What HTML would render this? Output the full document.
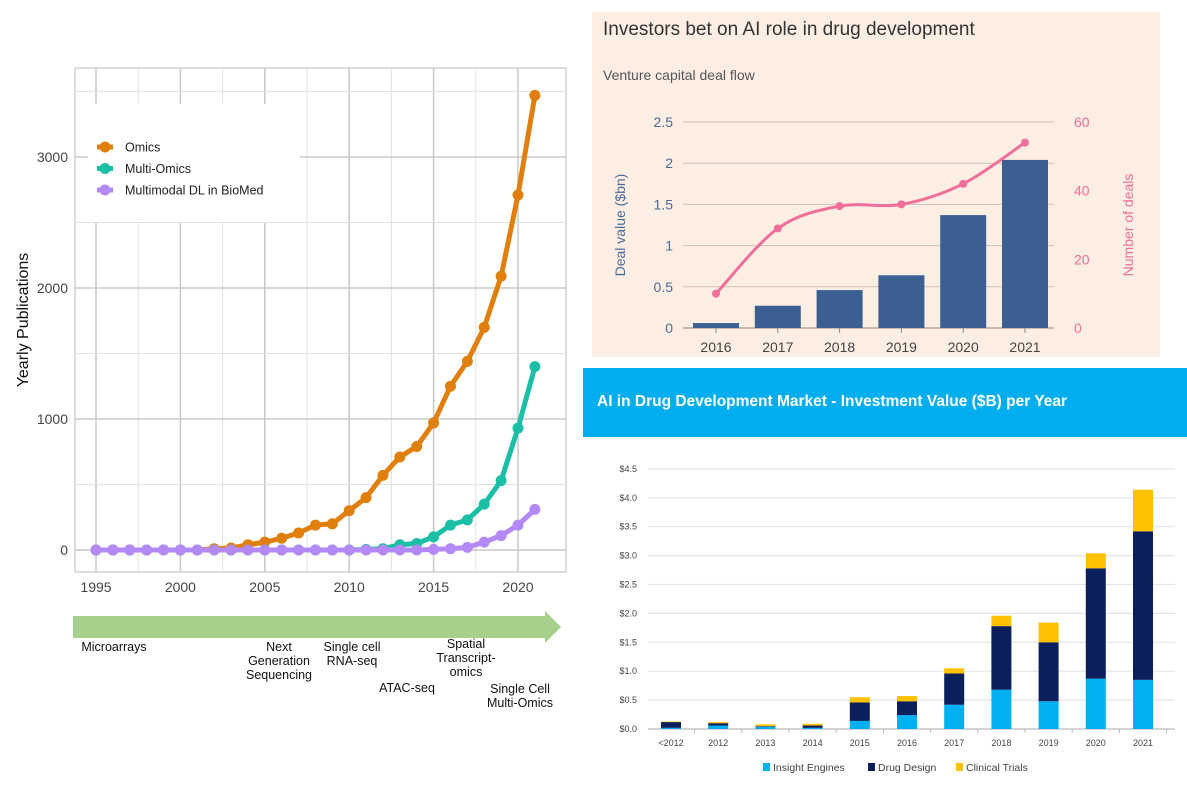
<!DOCTYPE html>
<html><head><meta charset="utf-8"><style>
body{margin:0;background:#fff;width:1187px;height:785px;overflow:hidden;font-family:"Liberation Sans",sans-serif}
</style></head><body>
<svg id="s" width="1187" height="785" xmlns="http://www.w3.org/2000/svg">
<g id="left"></g>
<g id="tr"></g>
<g id="br"></g>
</svg>
<script>
const years=[1995,1996,1997,1998,1999,2000,2001,2002,2003,2004,2005,2006,2007,2008,2009,2010,2011,2012,2013,2014,2015,2016,2017,2018,2019,2020,2021];
const omics=[0,0,0,0,0,0,0,10,15,40,60,90,130,190,200,300,400,570,710,790,970,1250,1440,1700,2090,2710,3470];
const multiOmics=[0,0,0,0,0,0,0,0,0,0,0,0,0,0,0,0,5,10,40,50,100,190,230,350,530,930,1400];
const multimodal=[0,0,0,0,0,0,0,0,0,0,0,0,0,0,0,0,0,0,0,0,5,10,20,60,110,190,310];
const leftXTicks=[1995,2000,2005,2010,2015,2020];
const leftYTicks=[0,1000,2000,3000];

const vcYears=["2016","2017","2018","2019","2020","2021"];
const vcValue=[0.06,0.27,0.46,0.64,1.37,2.04];
const vcDeals=[10,29,35.5,36,42,54];
const vcLeftTicks=[0,0.5,1,1.5,2,2.5];
const vcRightTicks=[0,20,40,60];

const invCats=["<2012","2012","2013","2014","2015","2016","2017","2018","2019","2020","2021"];
const insight=[0.02,0.06,0.04,0.02,0.14,0.24,0.42,0.68,0.48,0.87,0.85];
const drugDesign=[0.10,0.04,0.01,0.04,0.32,0.24,0.54,1.10,1.02,1.91,2.57];
const clinical=[0.01,0.02,0.03,0.03,0.09,0.09,0.09,0.18,0.34,0.26,0.72];
const invTicks=[0,0.5,1,1.5,2,2.5,3,3.5,4,4.5];

const NS="http://www.w3.org/2000/svg";
function mk(p,t,a,txt){const e=document.createElementNS(NS,t);for(const k in a)e.setAttribute(k,a[k]);if(txt!=null)e.textContent=txt;p.appendChild(e);return e;}

// LEFT
const L=document.getElementById('left');
const lx=y=>96+(y-1995)*16.88, ly=v=>550-v*0.131;
mk(L,'rect',{x:75,y:68,width:491,height:504,fill:'#fff',stroke:'#bbb'});
for(let y=1995;y<=2022;y+=2.5){const e=mk(L,'line',{x1:lx(y),x2:lx(y),y1:68,y2:572,stroke:y%5==0?'#c8c8c8':'#e2e2e2','stroke-width':y%5==0?1.5:1});}
for(let v=-500;v<=3500;v+=500){if(ly(v)<68||ly(v)>572)continue;mk(L,'line',{x1:75,x2:566,y1:ly(v),y2:ly(v),stroke:v%1000==0?'#c8c8c8':'#e2e2e2','stroke-width':v%1000==0?1.5:1});}
leftYTicks.forEach(v=>{const t=mk(L,'text',{x:68,y:ly(v)+5,'text-anchor':'end','font-size':14,fill:'#444'},v);});
leftXTicks.forEach(v=>{const t=mk(L,'text',{x:lx(v),y:592,'text-anchor':'middle','font-size':14,fill:'#444'},v);});
const yt=mk(L,'text',{x:28,y:320,'text-anchor':'middle','font-size':16,fill:'#111',transform:'rotate(-90 28 320)'},'Yearly Publications');

[[omics,'#e07f0b','omics'],[multiOmics,'#1bbfa5','multi-omics'],[multimodal,'#b389f7','multimodal']].forEach(([d,c,n])=>{
 const p=mk(L,'polyline',{points:d.map((v,i)=>lx(years[i])+','+ly(v)).join(' '),fill:'none',stroke:c,'stroke-width':5});
 
 d.forEach((v,i)=>{const q=mk(L,'circle',{cx:lx(years[i]),cy:ly(v),r:5.5,fill:c});});
});
const lg=mk(L,'g',{});
mk(lg,'rect',{x:88,y:104,width:212,height:118,fill:'#fff'});
[['Omics','#e07f0b'],['Multi-Omics','#1bbfa5'],['Multimodal DL in BioMed','#b389f7']].forEach(([t,c],i)=>{const y=147+i*21.5;
 const g=mk(lg,'g',{});
 mk(g,'line',{x1:97,x2:113,y1:y,y2:y,stroke:c,'stroke-width':5});mk(g,'circle',{cx:105,cy:y,r:5.5,fill:c});
 mk(g,'text',{x:125,y:y+4.5,'font-size':12.5,fill:'#222'},t);});
const ar=mk(L,'polygon',{points:'73,616 545,616 545,611 561,627 545,643 545,638 73,638',fill:'#a7d08c'});

[[['Microarrays'],114,651],[['Next','Generation','Sequencing'],279,651],[['Single cell','RNA-seq'],352,651],[['ATAC-seq'],407,692],[['Spatial','Transcript-','omics'],466,648],[['Single Cell','Multi-Omics'],520,693]].forEach(([ls,x,y])=>{
 ls.forEach((s,i)=>{const t=mk(L,'text',{x:x,y:y+i*14,'text-anchor':'middle','font-size':12.5,fill:'#111'},s);});});

// TOP RIGHT
const T=document.getElementById('tr');
mk(T,'rect',{x:592,y:12,width:568,height:345,fill:'#fdeee3'});
let t=mk(T,'text',{x:603,y:35,'font-size':19,fill:'#333'},'Investors bet on AI role in drug development');
t=mk(T,'text',{x:603,y:80,'font-size':14,fill:'#555'},'Venture capital deal flow');
const tx=i=>716+i*61.8, tyL=v=>328-v*82.4, tyR=v=>328-v*3.433;
vcLeftTicks.forEach(v=>{mk(T,'line',{x1:683,x2:1054,y1:tyL(v),y2:tyL(v),stroke:v==0?'#888':'#ccc2b8'});
 const e=mk(T,'text',{x:673,y:tyL(v)+5,'text-anchor':'end','font-size':14,fill:'#4a6a9a'},v);});
vcRightTicks.forEach(v=>{const e=mk(T,'text',{x:1074,y:tyR(v)+5,'font-size':14,fill:'#f06e9a'},v);});
vcYears.forEach((y,i)=>{mk(T,'line',{x1:tx(i),x2:tx(i),y1:328,y2:333,stroke:'#888'});
 const e=mk(T,'text',{x:tx(i),y:352,'text-anchor':'middle','font-size':14,fill:'#444'},y);
 const b=mk(T,'rect',{x:tx(i)-23,y:tyL(vcValue[i]),width:46,height:328-tyL(vcValue[i]),fill:'#3c5f91'});});
t=mk(T,'text',{x:625,y:225,'text-anchor':'middle','font-size':14,fill:'#4a6a9a',transform:'rotate(-90 625 225)'},'Deal value ($bn)');
t=mk(T,'text',{x:1133,y:225,'text-anchor':'middle','font-size':14,fill:'#f06e9a',transform:'rotate(-90 1133 225)'},'Number of deals');
const pts=vcDeals.map((v,i)=>[tx(i),tyR(v)]);
let d='M'+pts[0];for(let i=0;i<pts.length-1;i++){const p0=pts[Math.max(0,i-1)],p1=pts[i],p2=pts[i+1],p3=pts[Math.min(pts.length-1,i+2)];
 d+=` C${p1[0]+(p2[0]-p0[0])/6},${p1[1]+(p2[1]-p0[1])/6} ${p2[0]-(p3[0]-p1[0])/6},${p2[1]-(p3[1]-p1[1])/6} ${p2[0]},${p2[1]}`;}
t=mk(T,'path',{d:d,fill:'none',stroke:'#f06e9a','stroke-width':3});
pts.forEach(p=>{const c=mk(T,'circle',{cx:p[0],cy:p[1],r:4,fill:'#f06e9a'});});

// BOTTOM RIGHT
const B=document.getElementById('br');
t=mk(B,'rect',{x:583,y:368,width:604,height:69,fill:'#00aeef'});
t=mk(B,'text',{x:597,y:406,'font-size':15.5,'font-weight':'bold',fill:'#fff'},'AI in Drug Development Market - Investment Value ($B) per Year');
const bx=i=>671+i*47.2, by=v=>729-v*57.8;
invTicks.forEach(v=>{mk(B,'line',{x1:648,x2:1175,y1:by(v),y2:by(v),stroke:v==0?'#bbb':'#e4e4e4','stroke-width':1.2});
 const e=mk(B,'text',{x:637,y:by(v)+3,'text-anchor':'end','font-size':9,fill:'#444'},'$'+v.toFixed(1));});
invCats.forEach((c,i)=>{mk(B,'line',{x1:bx(i)+23.6,x2:bx(i)+23.6,y1:729,y2:733,stroke:'#bbb'});
 const e=mk(B,'text',{x:bx(i),y:746,'text-anchor':'middle','font-size':9,fill:'#444'},c);
 let base=0;[[insight,'#00b0f0','insight-engines-bar'],[drugDesign,'#0a1f5c','drug-design-bar'],[clinical,'#ffc000','clinical-trials-bar']].forEach(([arr,col,n])=>{
  const r=mk(B,'rect',{x:bx(i)-10,y:by(base+arr[i]),width:20,height:arr[i]*57.8,fill:col});base+=arr[i];});});
[['Insight Engines','#00b0f0',763],['Drug Design','#0a1f5c',868],['Clinical Trials','#ffc000',956]].forEach(([n,c,x])=>{
 const g=mk(B,'g',{});
 mk(g,'rect',{x:x,y:763,width:7,height:8,fill:c});mk(g,'text',{x:x+10,y:771,'font-size':10.5,fill:'#444'},n);});
</script>
</body></html>
